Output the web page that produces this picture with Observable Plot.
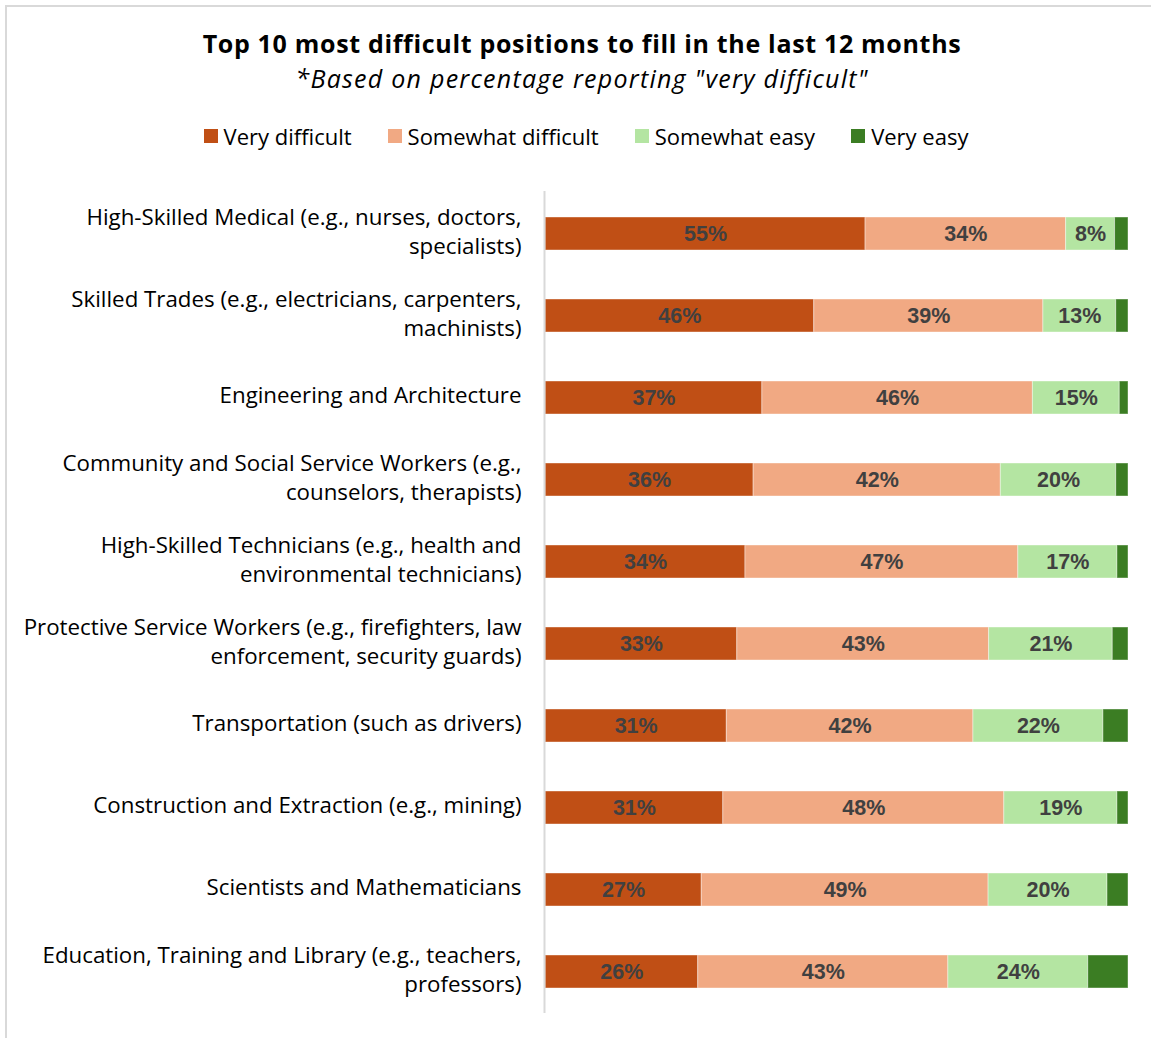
<!DOCTYPE html>
<html><head><meta charset="utf-8">
<script src="https://cdn.jsdelivr.net/npm/d3@7"></script>
<script src="https://cdn.jsdelivr.net/npm/@observablehq/plot@0.6"></script>
<style>
html,body{margin:0;background:#fff;font-family:"Open Sans",sans-serif;color:#000;overflow:hidden;width:1151px;height:1038px;}
#frame{position:absolute;left:5px;top:5px;width:1160px;height:1050px;border-left:2px solid #d9d9d9;border-top:2px solid #d9d9d9;box-sizing:border-box;pointer-events:none;}
.hdr{position:absolute;left:0;width:1164px;text-align:center;white-space:nowrap;}
#title{top:27px;font-weight:bold;font-size:25px;line-height:32px;letter-spacing:0.68px;}
#subtitle{top:62px;font-style:italic;font-size:25px;line-height:32px;letter-spacing:1.25px;}
#legend{top:122px;width:1172px;font-size:22px;line-height:28px;display:flex;justify-content:center;gap:36px;}
.item{display:flex;align-items:center;gap:6px;}
.sw{width:14px;height:14px;display:inline-block;}
#chart{position:absolute;left:0;top:170px;}
</style></head>
<body>
<div id="title" class="hdr">Top 10 most difficult positions to fill in the last 12 months</div>
<div id="subtitle" class="hdr">*Based on percentage reporting "very difficult"</div>
<div id="legend" class="hdr"></div>
<div id="chart"></div>
<div id="frame"></div>
<script>
const categories = [
  "High-Skilled Medical (e.g., nurses, doctors, specialists)",
  "Skilled Trades (e.g., electricians, carpenters, machinists)",
  "Engineering and Architecture",
  "Community and Social Service Workers (e.g., counselors, therapists)",
  "High-Skilled Technicians (e.g., health and environmental technicians)",
  "Protective Service Workers (e.g., firefighters, law enforcement, security guards)",
  "Transportation (such as drivers)",
  "Construction and Extraction (e.g., mining)",
  "Scientists and Mathematicians",
  "Education, Training and Library (e.g., teachers, professors)"
];
const tickLabels = [
  "High-Skilled Medical (e.g., nurses, doctors,\nspecialists)",
  "Skilled Trades (e.g., electricians, carpenters,\nmachinists)",
  "Engineering and Architecture",
  "Community and Social Service Workers (e.g.,\ncounselors, therapists)",
  "High-Skilled Technicians (e.g., health and\nenvironmental technicians)",
  "Protective Service Workers (e.g., firefighters, law\nenforcement, security guards)",
  "Transportation (such as drivers)",
  "Construction and Extraction (e.g., mining)",
  "Scientists and Mathematicians",
  "Education, Training and Library (e.g., teachers,\nprofessors)"
];
const levels = ["Very difficult", "Somewhat difficult", "Somewhat easy", "Very easy"];
const colors = ["#C04F15", "#F1A983", "#B4E5A2", "#3B7D23"];
const veryDifficult     = [54.9, 46.1, 37.2, 35.7, 34.3, 32.9, 31.1, 30.5, 26.8, 26.2];
const somewhatDifficult = [34.4, 39.3, 46.4, 42.4, 46.8, 43.2, 42.3, 48.2, 49.2, 42.9];
const somewhatEasy      = [8.4, 12.5, 14.9, 19.8, 17.0, 21.2, 22.3, 19.4, 20.4, 24.0];
const veryEasy          = [2.3, 2.1, 1.5, 2.1, 1.9, 2.7, 4.3, 1.9, 3.6, 6.9];

const series = [veryDifficult, somewhatDifficult, somewhatEasy, veryEasy];
const data = categories.flatMap((c, i) => levels.map((l, j) => ({category: c, level: l, value: series[j][i]})));

// legend
const lg = d3.select("#legend");
levels.forEach((l, j) => {
  const it = lg.append("div").attr("class", "item");
  it.append("span").attr("class", "sw").style("background", colors[j]);
  it.append("span").text(l);
});

const plot = Plot.plot({
  width: 1151,
  height: 868,
  marginTop: 21,
  marginBottom: 25,
  marginLeft: 545,
  marginRight: 23,
  x: {domain: [0, 100], axis: null},
  y: {domain: categories, paddingInner: 0.6, paddingOuter: 0.3, label: null},
  color: {domain: levels, range: colors},
  style: {fontFamily: "'Open Sans', sans-serif", fontSize: "22px", color: "#000", background: "transparent", overflow: "visible"},
  marks: [
    Plot.axisY({tickSize: 0, tickPadding: 24, fontSize: 22.3, lineHeight: 1.3, dy: -4, fill: "#000",
      tickFormat: d => tickLabels[categories.indexOf(d)]}),
    Plot.barX(data, {x: "value", y: "category", fill: "level", order: levels, stroke: "white", strokeOpacity: 0.4, strokeWidth: 1}),
    Plot.text(data, Plot.stackX({x: "value", y: "category", z: "level", order: levels,
      text: d => d.level === "Very easy" ? "" : Math.round(d.value) + "%",
      fill: "#404040", fontWeight: "bold", fontSize: 21.5, fontFamily: "'Liberation Sans', Arial, sans-serif"})),
    Plot.ruleX([0], {stroke: "#d9d9d9", strokeWidth: 2, dx: -1})
  ]
});
document.getElementById("chart").appendChild(plot);
</script>
</body></html>
